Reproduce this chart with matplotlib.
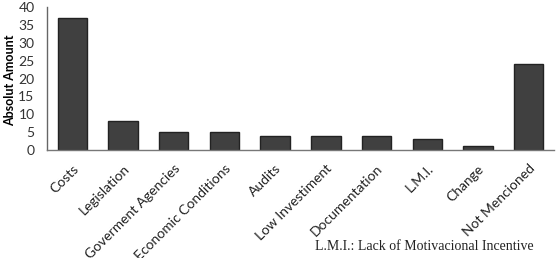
import matplotlib
matplotlib.use("Agg")
import matplotlib.pyplot as plt

categories = ["Costs", "Legislation", "Goverment Agencies", "Economic Conditions",
              "Audits", "Low Investiment", "Documentation", "L.M.I.", "Change",
              "Not Mencioned"]
values = [37, 8, 5, 5, 4, 4, 4, 3, 1, 24]
yticks = [0, 5, 10, 15, 20, 25, 30, 35, 40]

fig = plt.figure(figsize=(5.56, 2.58), dpi=100)
ax = fig.add_axes([47/556, 1-150/258, (554-47)/556, (150-7)/258])
x = list(range(len(categories)))
ax.bar(x, values, width=0.58, color="#404040", edgecolor="#222222", linewidth=1.0)
ax.set_xlim(-0.5, len(categories)-0.5)
ax.set_ylim(0, 40)
ax.set_yticks(yticks)
ax.set_yticklabels([str(t) for t in yticks], fontsize=10, family="Lato", color="#333333")
ax.set_xticks(x)
ax.set_xticklabels(categories, rotation=45, ha="right", rotation_mode="anchor",
                   fontsize=10, family="Lato", color="#222222")
ax.tick_params(axis="y", length=0, pad=9)
ax.tick_params(axis="x", length=0, pad=9)
for s in ["top", "right"]:
    ax.spines[s].set_visible(False)
ax.spines["left"].set_color("#666666")
ax.spines["bottom"].set_color("#777777")
ax.spines["left"].set_linewidth(1.0)
ax.spines["bottom"].set_linewidth(1.0)
ax.set_ylabel("Absolut Amount", fontsize=9, fontweight="bold", family="Lato")
ax.yaxis.set_label_coords(-0.062, 0.49)
fig.text(534/556, 1-246/258, "L.M.I.: Lack of Motivacional Incentive", ha="right", va="center",
         fontsize=10, family="Liberation Serif", color="#222222")
fig.savefig("out.png", dpi=100)
